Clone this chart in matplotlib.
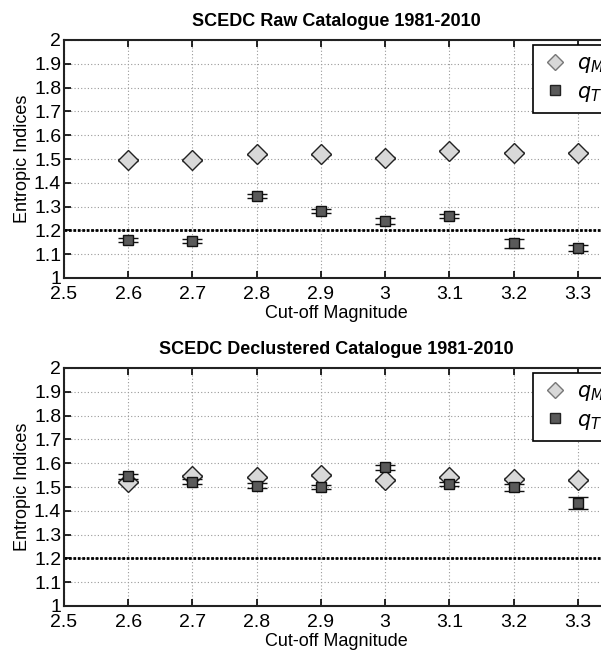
import matplotlib
matplotlib.use("Agg")
import matplotlib.pyplot as plt
import numpy as np

plt.rcParams['font.family'] = ['Liberation Sans', 'DejaVu Sans']

mags = [2.6, 2.7, 2.8, 2.9, 3.0, 3.1, 3.2, 3.3]

raw_qM = [1.495, 1.495, 1.52, 1.52, 1.505, 1.535, 1.527, 1.527]
raw_qM_err = [0.003, 0.003, 0.003, 0.003, 0.003, 0.003, 0.003, 0.003]
raw_qT = [1.16, 1.155, 1.345, 1.28, 1.24, 1.26, 1.145, 1.127]
raw_qT_err = [0.008, 0.008, 0.008, 0.008, 0.014, 0.008, 0.02, 0.012]

dec_qM = [1.52, 1.545, 1.54, 1.55, 1.53, 1.54, 1.535, 1.53]
dec_qM_err = [0.004, 0.004, 0.004, 0.004, 0.004, 0.004, 0.004, 0.004]
dec_qT = [1.545, 1.523, 1.505, 1.50, 1.583, 1.513, 1.498, 1.432]
dec_qT_err = [0.01, 0.01, 0.01, 0.01, 0.01, 0.01, 0.015, 0.025]

threshold = 1.2

titles = ["SCEDC Raw Catalogue 1981-2010", "SCEDC Declustered Catalogue 1981-2010"]
xticks = [2.5, 2.6, 2.7, 2.8, 2.9, 3.0, 3.1, 3.2, 3.3]
xticklabels = ["2.5", "2.6", "2.7", "2.8", "2.9", "3", "3.1", "3.2", "3.3"]
yticks = [1, 1.1, 1.2, 1.3, 1.4, 1.5, 1.6, 1.7, 1.8, 1.9, 2]
yticklabels = ["1", "1.1", "1.2", "1.3", "1.4", "1.5", "1.6", "1.7", "1.8", "1.9", "2"]

fig = plt.figure(figsize=(6.01, 6.5), dpi=100)
W, H = 601, 650
x0 = 64
x1 = 608
panels = [
    (40, 278, raw_qM, raw_qM_err, raw_qT, raw_qT_err, 45),
    (368, 606, dec_qM, dec_qM_err, dec_qT, dec_qT_err, 373),
]
for i, (ytop, ybot, qM, qMe, qT, qTe, legtop) in enumerate(panels):
    ax = fig.add_axes([x0 / W, 1 - ybot / H, (x1 - x0) / W, (ybot - ytop) / H])
    ax.set_xlim(2.5, 3.347)
    ax.set_ylim(1, 2)
    ax.grid(True, color='#999999', linestyle=(0, (1, 2)), linewidth=0.8)
    ax.axhline(threshold, color='black', linestyle=(0, (1, 0.6)), linewidth=2.0, zorder=2)
    ax.errorbar(mags, qM, yerr=qMe, fmt='D', markersize=10, markerfacecolor='#d8d8d8',
                markeredgecolor='#222222', markeredgewidth=1.0, ecolor='#222222',
                elinewidth=1.2, capsize=7, capthick=1.2, zorder=3, label='$q_M$')
    ax.errorbar(mags, qT, yerr=qTe, fmt='s', markersize=7.5, markerfacecolor='#5a5a5a',
                markeredgecolor='#111111', markeredgewidth=1.0, ecolor='#111111',
                elinewidth=1.2, capsize=7, capthick=1.2, zorder=4, label='$q_T$')
    ax.set_xticks(xticks)
    ax.set_xticklabels(xticklabels)
    ax.set_yticks(yticks)
    ax.set_yticklabels(yticklabels)
    ax.tick_params(direction='in', top=True, right=True, labelsize=14, length=5, width=1.2)
    ax.tick_params(axis='x', pad=6)
    ax.tick_params(axis='y', pad=2)
    for s in ax.spines.values():
        s.set_linewidth(1.5)
        s.set_color('#222222')
    ax.set_title(titles[i], fontsize=13, fontweight='bold', pad=10)
    ax.set_xlabel("Cut-off Magnitude", fontsize=13, labelpad=1)
    ax.set_ylabel("Entropic Indices", fontsize=13, labelpad=2)
    hs = [plt.Line2D([], [], marker='D', linestyle='none', markersize=8, markerfacecolor='#d8d8d8',
                     markeredgecolor='#777777'),
          plt.Line2D([], [], marker='s', linestyle='none', markersize=7, markerfacecolor='#5a5a5a',
                     markeredgecolor='#222222')]
    leg = ax.legend(hs, ['$q_M$', '$q_T$'], loc='upper left',
                    bbox_to_anchor=(533 / W, 1 - legtop / H), bbox_transform=fig.transFigure,
                    borderaxespad=0,
                    fontsize=15, frameon=True, fancybox=False, framealpha=1,
                    edgecolor='black', handletextpad=0.45, borderpad=0.45, labelspacing=0.35,
                    handlelength=1.2)
    leg.get_frame().set_linewidth(1.2)

fig.savefig("out.png", dpi=100)
